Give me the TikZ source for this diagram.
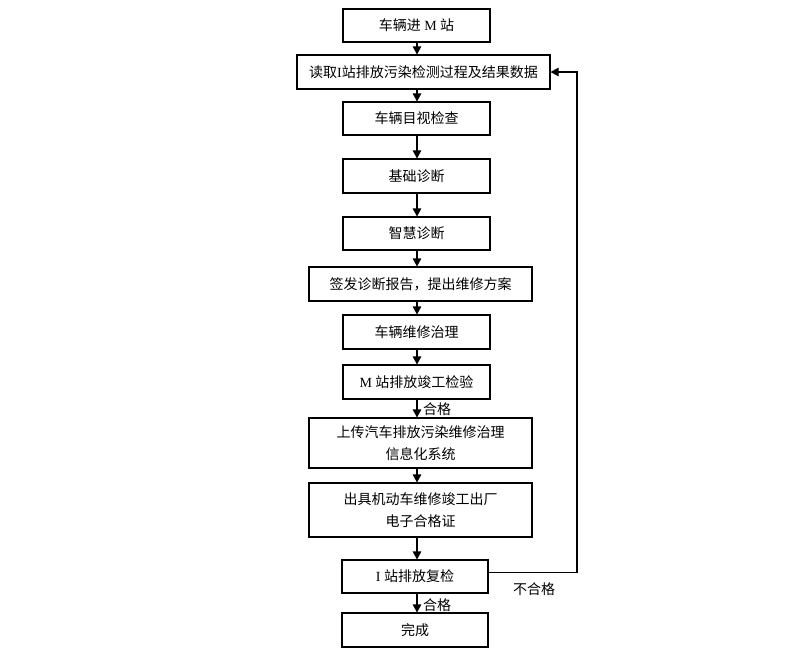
\documentclass[tikz,border=0pt]{standalone}
\usepackage{fontspec}
\setmainfont{Liberation Serif}
\newfontfamily\cjk{Noto Sans CJK SC}
\usetikzlibrary{arrows.meta,calc}
\begin{document}
\begin{tikzpicture}[x=1pt,y=-1pt,
  box/.style={draw=black,line width=1.1pt,inner sep=0pt,align=center,
    font=\fontsize{14}{22}\selectfont\cjk},
  arr/.style={draw=black,line width=1.1pt,-{Triangle[length=8pt,width=8.5pt]}},
  lbl/.style={font=\fontsize{14}{16}\selectfont\cjk,inner sep=0pt}]
\useasboundingbox (0,0) rectangle (790,657);
\coordinate (axis) at (417,0);
\node[box,minimum width=147pt,minimum height=33pt] (b1) at (416.5,25.5) {车辆进{\rmfamily\ M\ }站};
\node[box,minimum width=253pt,minimum height=34pt] (b2) at (423.5,72) {读取{\rmfamily I}站排放污染检测过程及结果数据};
\node[box,minimum width=147pt,minimum height=33pt] (b3) at (416.5,118.5) {车辆目视检查};
\node[box,minimum width=147pt,minimum height=34pt] (b4) at (416.5,176) {基础诊断};
\node[box,minimum width=147pt,minimum height=33pt] (b5) at (416.5,233.5) {智慧诊断};
\node[box,minimum width=223pt,minimum height=34pt] (b6) at (420.5,284) {签发诊断报告，提出维修方案};
\node[box,minimum width=147pt,minimum height=34pt] (b7) at (416.5,332) {车辆维修治理};
\node[box,minimum width=147pt,minimum height=34pt] (b8) at (416.5,382) {{\rmfamily M\ }站排放竣工检验};
\node[box,minimum width=223pt,minimum height=50pt] (b9) at (420.5,443) {上传汽车排放污染维修治理\\信息化系统};
\node[box,minimum width=223pt,minimum height=54pt] (b10) at (420.5,510) {出具机动车维修竣工出厂\\电子合格证};
\node[box,minimum width=146pt,minimum height=33pt] (b11) at (415,576.5) {{\rmfamily I\ }站排放复检};
\node[box,minimum width=146pt,minimum height=34pt] (b12) at (415,630) {完成};
\draw[arr] (b1.south -| axis) -- (b2.north -| axis);
\draw[arr] (b2.south -| axis) -- (b3.north -| axis);
\draw[arr] (b3.south -| axis) -- (b4.north -| axis);
\draw[arr] (b4.south -| axis) -- (b5.north -| axis);
\draw[arr] (b5.south -| axis) -- (b6.north -| axis);
\draw[arr] (b6.south -| axis) -- (b7.north -| axis);
\draw[arr] (b7.south -| axis) -- (b8.north -| axis);
\draw[arr] (b8.south -| axis) -- (b9.north -| axis);
\draw[arr] (b9.south -| axis) -- (b10.north -| axis);
\draw[arr] (b10.south -| axis) -- (b11.north -| axis);
\draw[arr] (b11.south -| axis) -- (b12.north -| axis);
\coordinate (fb) at (577,0);
\draw[arr] ([yshift=4pt]b11.east) -- ([yshift=4pt]b11.east -| fb) -- (b2.east -| fb) -- (b2.east);
\node[lbl,anchor=west] (l1) at (423,409) {合格};
\node[lbl,anchor=west] (l2) at (423,605) {合格};
\node[lbl] (l3) at (534,589) {不合格};
\end{tikzpicture}
\end{document}
